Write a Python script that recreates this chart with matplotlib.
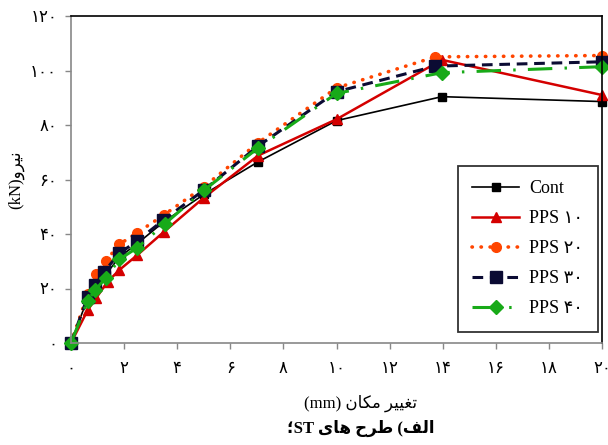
import numpy as np
import matplotlib
matplotlib.use('Agg')
import matplotlib.pyplot as plt

# ---- data ----
x_cont = [0, 0.63, 0.92, 1.30, 1.82, 2.50, 3.50, 5.00, 7.05, 10.0, 13.97, 20.0]
y_cont = [0, 16.5, 20.5, 25.0, 31.5, 36.5, 44.5, 54.5, 66.5, 81.6, 90.4, 88.6]

x_p10 = [0, 0.63, 0.94, 1.38, 1.82, 2.50, 3.50, 5.00, 7.05, 10.0, 13.97, 20.0]
y_p10 = [0, 12.1, 16.4, 22.5, 26.8, 32.3, 40.8, 53.3, 68.8, 82.1, 103.9, 91.0]

x_p20 = [0, 0.63, 0.94, 1.32, 1.82, 2.50, 3.50, 5.00, 7.05, 10.0, 13.72, 20.0]
y_p20 = [0, 18.0, 25.3, 30.2, 36.2, 40.5, 47.0, 57.3, 73.5, 93.6, 105.0, 105.5]

x_p30 = [0, 0.63, 0.91, 1.25, 1.82, 2.50, 3.48, 5.00, 7.05, 10.0, 13.72, 20.0]
y_p30 = [0, 17.0, 21.3, 26.2, 32.9, 37.5, 45.1, 56.1, 72.3, 92.2, 101.6, 103.2]

x_p40 = [0, 0.63, 0.91, 1.32, 1.82, 2.50, 3.53, 5.00, 7.05, 10.0, 13.97, 20.0]
y_p40 = [0, 15.5, 19.4, 24.0, 30.7, 35.0, 43.7, 56.0, 71.6, 91.6, 99.2, 101.4]

x_ticks = list(range(0, 21, 2))
y_ticks = list(range(0, 121, 20))

fa_digits = str.maketrans('0123456789', '۰۱۲۳۴۵۶۷۸۹')
def fa(n):
    return str(n).translate(fa_digits)

labels = ['Cont', 'PPS ' + fa(10), 'PPS ' + fa(20), 'PPS ' + fa(30), 'PPS ' + fa(40)]

# Persian text in visual (left-to-right) order with presentation forms
niru = '\uFEED\uFEAE\uFEF4\uFEE7'                 # نیرو
makan = '\uFEE5\uFE8E\uFB91\uFEE3'                # مکان
taghyir = '\uFEAE\uFEF4\uFEF4\uFED0\uFE97'        # تغییر
alef = '\uFED2\uFEDF\uFE8D'                       # الف
tarh = '\uFEA1\uFEAE\uFEC3'                       # طرح
hay = '\uFEEF\uFE8E\uFEEB'                        # های
ylabel_txt = '(kN)' + niru
xlabel_txt = '(mm) ' + makan + ' ' + taghyir
caption_txt = '\u061BST ' + hay + ' ' + tarh + ' (' + alef

plt.rcParams['font.family'] = ['Liberation Serif', 'DejaVu Sans']

fig = plt.figure(figsize=(6.08, 4.45), dpi=100)
ax = fig.add_axes([71 / 608, 1 - 343 / 445, 531 / 608, 327 / 445])

ax.plot(x_cont, y_cont, color='black', lw=1.2, marker='s', ms=6,
        label=labels[0])
ax.plot(x_p10, y_p10, color='#d40000', lw=1.8, marker='^', ms=6.5,
        label=labels[1])
ax.plot(x_p20, y_p20, color='#ff4500', lw=2.6, ls=(0, (0.1, 2.4)),
        dash_capstyle='round', marker='o', ms=7, label=labels[2])
ax.plot(x_p30, y_p30, color='#0b0b33', lw=2.2, ls=(0, (3.5, 2.2)),
        marker='s', ms=8, label=labels[3])
ax.plot(x_p40, y_p40, color='#18aa18', lw=2.2, ls=(0, (8, 4, 0.8, 4)),
        marker='D', ms=7, label=labels[4])

ax.set_xlim(0, 20)
ax.set_ylim(0, 120)
ax.set_xticks(x_ticks)
ax.set_xticklabels([fa(t) for t in x_ticks])
ax.set_yticks(y_ticks)
ax.set_yticklabels([fa(t) for t in y_ticks])
ax.tick_params(direction='out', length=4, width=1, color='#888888',
               labelsize=12)
ax.tick_params(axis='x', pad=9)
ax.tick_params(axis='y', pad=6)
for s in ['left', 'bottom']:
    ax.spines[s].set_color('#888888')
    ax.spines[s].set_linewidth(1.2)
for s in ['top', 'right']:
    ax.spines[s].set_color('black')
    ax.spines[s].set_linewidth(1.2)
for ln in ax.lines:
    ln.set_clip_on(False)

leg = ax.legend(loc='lower right', bbox_to_anchor=(0.992, 0.034),
                borderaxespad=0, fontsize=13, frameon=True, fancybox=False,
                edgecolor='black', handlelength=2.6, handletextpad=0.55,
                labelspacing=0.72, borderpad=0.8)
leg.get_frame().set_linewidth(1.3)

fig.text(16 / 608, 1 - 180 / 445, ylabel_txt, rotation=90, fontsize=12,
         ha='center', va='center')
fig.text(361 / 608, 1 - 403 / 445, xlabel_txt, fontsize=12,
         ha='center', va='center')
fig.text(361 / 608, 1 - 428 / 445, caption_txt, fontsize=12,
         fontweight='bold', ha='center', va='center')

fig.savefig('out.png', dpi=100)
